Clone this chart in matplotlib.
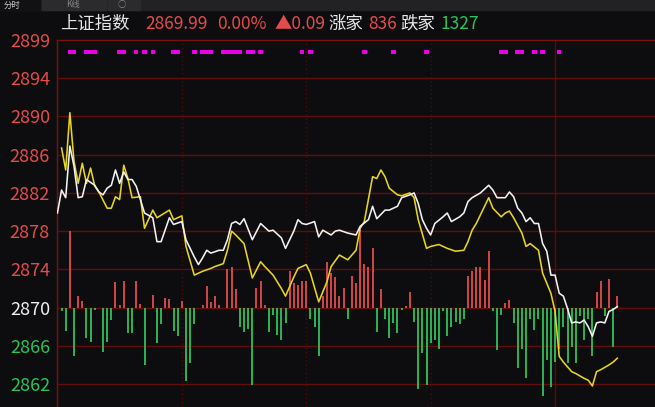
from matplotlib import pyplot as plt
from matplotlib.patches import Rectangle

plt.rcParams['font.family'] = ['Noto Sans CJK SC', 'DejaVu Sans']

BG = '#0d0d0f'
RED = '#e44b4b'
GREEN = '#2bc25a'
GRID = '#640c0c'

# minute index from 9:30 (120 = 11:30 / 13:00)
white_min = [0, 1, 2, 3, 4, 5, 6, 7, 9, 10, 11, 12, 13, 14, 15, 16, 17, 18, 19, 20,
             21, 23, 24, 25, 27, 28, 30, 31, 33, 34, 35, 36, 37, 39, 40, 41, 42, 43, 44, 45,
             47, 49, 51, 52, 54, 55, 57, 58, 59, 60, 62, 63, 64, 66, 67, 68, 70, 72, 73, 75,
             76, 77, 79, 80, 82, 83, 85, 86, 87, 88, 89, 90, 91, 93, 94, 95, 97, 98, 99, 100,
             102, 104, 105, 106, 108, 109, 110, 111, 112, 113, 114, 115, 116, 117, 118, 119, 120, 121, 122, 123,
             124, 125, 126, 127, 128, 129, 130, 131, 132, 133, 134, 135]
white_price = [2879.9, 2882.3, 2881.5, 2886.9, 2884.8, 2881.5, 2881.6, 2883.4, 2882.8, 2882.1,
               2881.8, 2882.5, 2882.8, 2884.4, 2883.0, 2884.2, 2883.4, 2883.4, 2882.7, 2881.3,
               2879.9, 2879.4, 2876.9, 2876.9, 2879.4, 2878.7, 2879.0, 2877.1, 2875.3, 2874.5,
               2875.2, 2876.0, 2875.7, 2876.0, 2876.0, 2877.1, 2878.8, 2879.0, 2878.7, 2879.3,
               2877.1, 2878.8, 2878.0, 2878.1, 2877.3, 2876.2, 2878.0, 2879.2, 2878.8, 2878.7,
               2879.0, 2877.4, 2878.1, 2877.6, 2878.0, 2878.1, 2877.8, 2877.6, 2878.5, 2879.2,
               2880.6, 2879.3, 2880.2, 2880.2, 2880.6, 2881.5, 2881.8, 2882.0, 2880.9, 2879.2,
               2878.3, 2877.6, 2878.8, 2879.5, 2879.9, 2879.0, 2879.5, 2879.9, 2881.1, 2881.5,
               2882.0, 2882.8, 2882.3, 2881.5, 2881.5, 2882.1, 2881.6, 2880.4, 2879.9, 2879.0,
               2879.4, 2878.8, 2878.8, 2876.7, 2875.9, 2873.4, 2873.4, 2871.5, 2871.2, 2869.9,
               2868.4, 2868.5, 2868.4, 2868.7, 2868.0, 2867.0, 2868.4, 2868.5, 2868.4, 2869.6,
               2869.8, 2870.1]

yellow_min = [1, 2, 3, 4, 5, 6, 7, 8, 9, 10, 12, 13, 14, 15, 16, 17, 18, 20, 21, 23,
              24, 27, 28, 30, 31, 33, 35, 37, 38, 40, 41, 42, 43, 45, 47, 49, 50, 52, 54, 55,
              57, 58, 60, 61, 63, 65, 66, 68, 70, 72, 73, 74, 76, 77, 78, 79, 80, 82, 83, 85,
              86, 87, 89, 90, 92, 94, 96, 98, 99, 100, 101, 102, 104, 105, 107, 108, 109, 110, 112, 113,
              114, 116, 117, 119, 120, 121, 122, 124, 125, 127, 128, 129, 130, 131, 133, 134, 135]
yellow_price = [2886.7, 2884.4, 2890.4, 2885.3, 2883.0, 2885.1, 2883.0, 2884.6, 2882.7, 2882.1,
                2880.4, 2880.4, 2881.6, 2881.3, 2884.9, 2883.5, 2881.5, 2881.6, 2878.3, 2880.2,
                2879.4, 2880.2, 2879.2, 2879.6, 2876.4, 2873.4, 2873.8, 2874.1, 2874.3, 2874.6,
                2876.0, 2878.0, 2877.6, 2876.7, 2873.1, 2874.8, 2874.3, 2873.4, 2872.0, 2871.2,
                2873.2, 2874.1, 2874.5, 2873.6, 2870.6, 2872.7, 2874.3, 2875.5, 2875.0, 2876.0,
                2878.3, 2879.0, 2883.7, 2883.5, 2884.4, 2883.7, 2882.5, 2881.8, 2881.7, 2882.0,
                2881.5, 2879.2, 2876.2, 2876.4, 2876.6, 2876.2, 2875.9, 2876.0, 2876.9, 2878.1,
                2878.8, 2879.7, 2881.5, 2880.4, 2879.5, 2879.9, 2880.1, 2879.4, 2877.8, 2876.4,
                2876.7, 2876.0, 2873.6, 2871.5, 2869.6, 2864.9, 2864.3, 2863.3, 2863.1, 2862.6,
                2862.4, 2861.8, 2863.3, 2863.5, 2864.0, 2864.3, 2864.7]

# up/down breadth bars, drawn from the 2870 line
bar_min = [1, 2, 3, 4, 5, 6, 7, 8, 9, 11, 12, 13, 14, 15, 16, 17, 18, 19, 20, 21,
           23, 24, 25, 26, 27, 28, 29, 30, 31, 32, 33, 35, 36, 37, 38, 39, 41, 42, 43, 44,
           45, 46, 47, 48, 49, 50, 51, 52, 53, 54, 55, 56, 57, 58, 59, 60, 61, 62, 63, 64,
           65, 66, 67, 68, 69, 70, 71, 72, 73, 74, 75, 76, 77, 78, 79, 80, 81, 82, 83, 84,
           85, 86, 87, 88, 89, 90, 91, 92, 93, 94, 95, 96, 97, 98, 99, 100, 101, 102, 103, 104,
           105, 106, 107, 108, 109, 110, 111, 112, 113, 114, 115, 116, 117, 118, 119, 120, 121, 122, 123, 124,
           125, 126, 127, 128, 129, 130, 131, 132, 133, 134, 135]
bar_val = [-0.4, -2.4, 8.0, -5.1, 1.2, 0.7, -3.2, -3.6, -0.2, -4.6, -3.6, -1.3, 2.7, 0.3, 2.8, -2.7, -2.7, 2.8, 0.4, -6.0,
           1.3, -3.7, -1.7, 1.0, 0.9, -2.4, -3.0, 0.7, -7.7, -5.8, -1.7, 0.3, 2.3, 0.6, 1.2, 0.3, 4.0, 4.3, 1.9, -2.0,
           -2.6, -2.2, -8.1, 2.0, 2.8, 0.3, -2.6, -0.8, -2.9, -3.4, -1.6, 3.8, 2.6, 2.4, 2.8, 2.8, -1.2, -2.0, -5.1, 1.2,
           4.8, 3.6, 3.2, 1.2, 2.0, -1.2, 3.3, 2.6, 8.1, 4.6, 4.2, 6.2, -2.6, 1.9, -1.2, -3.2, -1.6, -2.7, -0.3, 0.2,
           1.6, -1.5, -8.5, -4.8, -8.1, -3.7, -3.4, -4.3, -0.4, -3.0, -2.0, -1.5, -1.7, -1.2, 3.3, 3.8, 4.3, 4.3, 2.9, 5.9,
           -0.4, -4.4, -0.8, 0.5, 0.8, -1.6, -6.3, -4.3, -7.4, -1.2, -2.3, -1.2, -9.3, -5.5, -8.3, -5.7, -4.3, -2.0, -5.8, -4.1,
           -5.8, -0.9, -3.4, -1.2, -5.1, 1.6, 2.8, -0.9, 3.0, -4.1, 1.2]

# magenta signal marks along the top row
mark_min = [3, 4, 7, 8, 9, 15, 16, 19, 21, 23, 28, 29, 33, 35, 36, 37, 40, 41, 42, 43,
            44, 46, 47, 49, 59, 61, 74, 81, 89, 107, 108, 111, 112, 115, 117, 121]

tick_vals = [2862, 2866, 2870, 2874, 2878, 2882, 2886, 2890, 2894]
tick_labels = ['2862', '2866', '2870', '2874', '2878', '2882', '2886', '2890', '2894', '2899']

header = [('上证指数', '#e8e8e8', 60), ('2869.99', RED, 145), ('0.00%', RED, 217),
          ('▲0.09', RED, 274), ('涨家', '#e8e8e8', 328), ('836', RED, 368),
          ('跌家', '#e8e8e8', 400), ('1327', GREEN, 441)]

W, H = 655, 407
BASE = 2870
Y_TOP = 2898.0
Y_BOT = 2859.6


def draw_tabs(fig):
    # thin strip of tabs along the top edge
    fig.patches.append(Rectangle((0, 1 - 10 / H), 1, 10 / H, transform=fig.transFigure,
                                 color='#222224', zorder=0))
    fig.patches.append(Rectangle((0, 1 - 10 / H), 40 / W, 10 / H, transform=fig.transFigure,
                                 color='#111113', zorder=1))
    fig.patches.append(Rectangle((42 / W, 1 - 10 / H), 64 / W, 10 / H, transform=fig.transFigure,
                                 color='#2b2b2d', zorder=1))
    fig.patches.append(Rectangle((108 / W, 1 - 10 / H), 32 / W, 10 / H, transform=fig.transFigure,
                                 color='#2b2b2d', zorder=1))
    fig.text(4 / W, 1 - 5 / H, '分时', color='#d0d0d0', fontsize=6, va='center', ha='left')
    fig.text(73 / W, 1 - 5 / H, 'K线', color='#8a8a8a', fontsize=6, va='center', ha='center')
    fig.text(122 / W, 1 - 5 / H, '○', color='#8a8a8a', fontsize=6, va='center', ha='center')


def show_chart():
    fig = plt.figure(figsize=(W / 100, H / 100), dpi=100)
    fig.patch.set_facecolor(BG)
    draw_tabs(fig)

    for text, color, x in header:
        fig.text(x / W, 1 - 24 / H, text, color=color, fontsize=12.5, va='center', ha='left')

    ax = fig.add_axes([57 / W, 0, 1 - 57 / W, (H - 40) / H])
    ax.set_facecolor(BG)
    ax.set_xlim(-0.1, (W - 57) / 4.15)
    ax.set_ylim(Y_BOT, Y_TOP)

    for v in tick_vals:
        ax.axhline(v, color=GRID, lw=1.0, zorder=1)
    for m in [30, 60, 90]:
        ax.axvline(m, color='#4a0c0c', lw=1.0, ls=(0, (1, 2)), zorder=1)
    ax.axvline(120, color='#5a0a0a', lw=1.0, zorder=1)

    colors = [RED if v > 0 else GREEN for v in bar_val]
    tops = [BASE + v for v in bar_val]
    ax.vlines(bar_min, BASE, tops, colors=colors, lw=1.3, zorder=2)

    ax.bar(mark_min, 0.45, bottom=2896.55, width=1.1, color='#e800e8', zorder=3)

    ax.plot(yellow_min, yellow_price, color='#e8d41c', lw=1.15, zorder=4)
    ax.plot(white_min, white_price, color='#f2f2f2', lw=1.15, zorder=5)

    ax.set_xticks([])
    ax.set_yticks(tick_vals + [Y_TOP])
    ax.set_yticklabels(tick_labels)
    ax.tick_params(axis='y', length=0, pad=5, labelsize=13)
    for val, lab in zip(tick_vals + [Y_TOP], ax.get_yticklabels()):
        if val > BASE:
            lab.set_color(RED)
        elif val < BASE:
            lab.set_color(GREEN)
        else:
            lab.set_color('#f0f0f0')

    for side in ['right', 'bottom']:
        ax.spines[side].set_visible(False)
    for side in ['left', 'top']:
        ax.spines[side].set_color('#7a1010')
        ax.spines[side].set_linewidth(1.0)

    fig.savefig('out.png', dpi=100, facecolor=BG)


if __name__ == "__main__":
    show_chart()
